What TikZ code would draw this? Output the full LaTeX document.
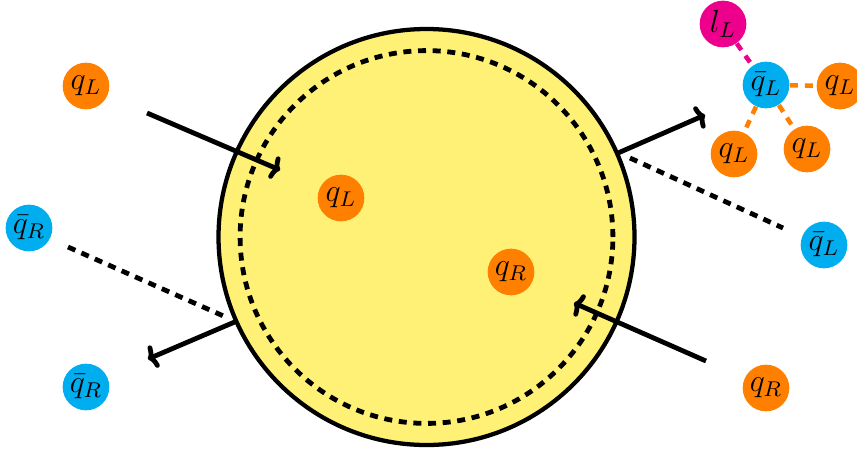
\documentclass[tikz,border=0pt]{standalone}
\usetikzlibrary{arrows.meta}
\definecolor{porange}{HTML}{FF7F00}
\definecolor{pblue}{HTML}{00AEEF}
\definecolor{pmag}{HTML}{EC008C}
\definecolor{pyellow}{HTML}{FFF176}
\begin{document}
\begin{tikzpicture}[x=0.375pt,y=-0.375pt,
  part/.style={circle,minimum size=17.5pt,inner sep=0pt,font=\fontsize{11.5}{13}\selectfont},
  qo/.style={part,fill=porange},
  qb/.style={part,fill=pblue},
  ql/.style={part,fill=pmag},
  mover/.style={line width=1.8pt,-{To[round,length=3.2pt,width=9pt]}},
  track/.style={line width=1.8pt,dash pattern=on 3pt off 2.5pt},
  bond/.style={line width=1.7pt,dash pattern=on 3pt off 2.6pt}]
\useasboundingbox (0,0) rectangle (857,450);
% bubble
\path[fill=pyellow,draw=black,line width=1.6pt] (426.5,237) circle[radius=78pt];
\draw[track] (426.5,237) circle[radius=69.9pt];
% particles
\node[qo] (qLout) at (86,86) {$q_L$};
\node[qb] (qbRl) at (29,228) {$\bar{q}_R$};
\node[qb] (qbRb) at (86,387) {$\bar{q}_R$};
\node[qo] (qLin) at (341,198) {$q_L$};
\node[qo] (qRin) at (511,272) {$q_R$};
\node[ql] (lL) at (723,24) {$l_L$};
\node[qb] (qbL) at (766,85) {$\bar{q}_L$};
\node[qo] (qL1) at (840,86) {$q_L$};
\node[qo] (qL2) at (734,154) {$q_L$};
\node[qo] (qL3) at (807,149) {$q_L$};
\node[qb] (qbLr) at (824,245) {$\bar{q}_L$};
\node[qo] (qRout) at (766,388) {$q_R$};
% bonds
\draw[bond,pmag] (lL) -- (qbL);
\draw[bond,porange] (qbL) -- (qL1);
\draw[bond,porange] (qbL) -- (qL2);
\draw[bond,porange] (qbL) -- (qL3);
% arrow endpoints
\coordinate (a1s) at (147,113); \coordinate (a1e) at (280,170);
\coordinate (a2s) at (618,153); \coordinate (a2e) at (705,115);
\coordinate (a3s) at (237,321); \coordinate (a3e) at (148,359);
\coordinate (a4s) at (706,361); \coordinate (a4e) at (574,303);
\coordinate (d1s) at (630,158); \coordinate (d1e) at (783,228);
\coordinate (d2s) at (68,247);  \coordinate (d2e) at (228,318);
\draw[mover] (a1s) -- (a1e);
\draw[mover] (a2s) -- (a2e);
\draw[mover] (a3s) -- (a3e);
\draw[mover] (a4s) -- (a4e);
\draw[track] (d1s) -- (d1e);
\draw[track] (d2s) -- (d2e);
\end{tikzpicture}
\end{document}
